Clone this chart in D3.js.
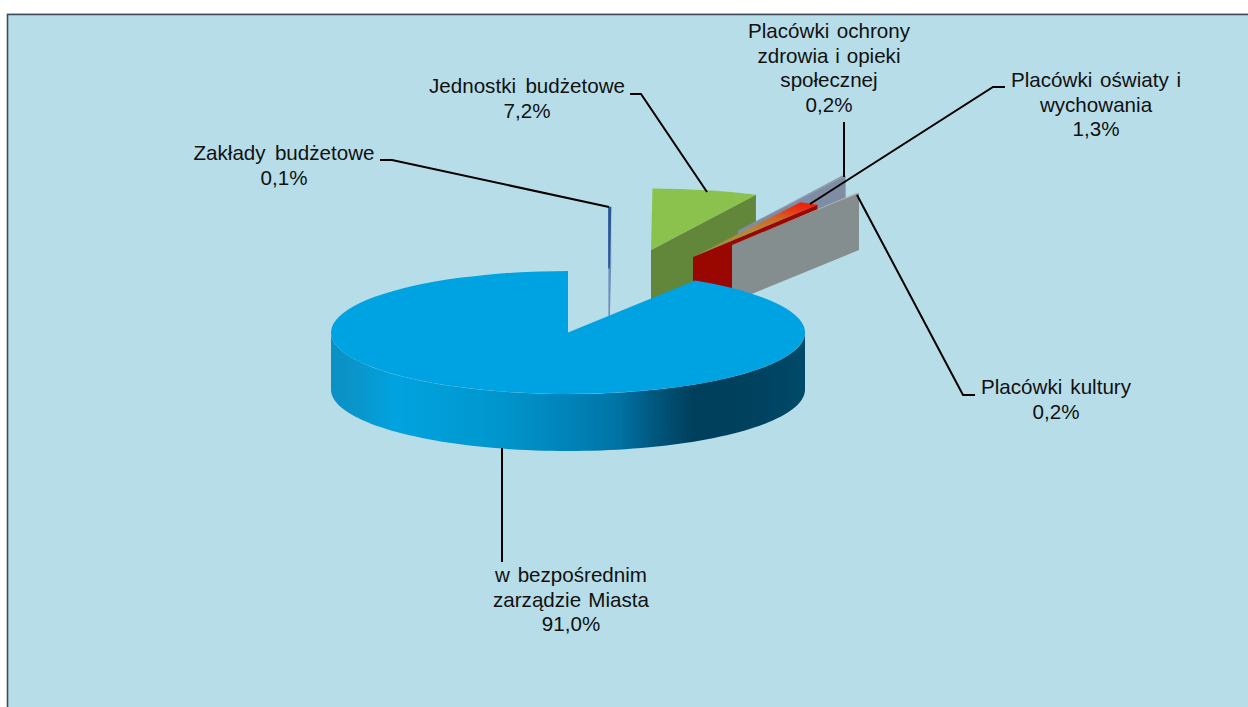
<!DOCTYPE html>
<html><head><meta charset="utf-8">
<script src="https://cdn.jsdelivr.net/npm/d3@7"></script>
<style>html,body{margin:0;padding:0;background:#fff}svg{display:block}</style>
</head><body><svg id="c" width="1248" height="707"></svg>
<script>
// Data
const categories = ["Zakłady budżetowe","Jednostki budżetowe","Placówki ochrony zdrowia i opieki społecznej","Placówki oświaty i wychowania","Placówki kultury","w bezpośrednim zarządzie Miasta"];
const values = [0.1,7.2,0.2,1.3,0.2,91.0];
const valueLabels = ["0,1%","7,2%","0,2%","1,3%","0,2%","91,0%"];
const labelLines = [["Zakłady budżetowe"],["Jednostki budżetowe"],["Placówki ochrony","zdrowia i opieki","społecznej"],["Placówki oświaty i","wychowania"],["Placówki kultury"],["w bezpośrednim","zarządzie Miasta"]];

// Layout & style
const W=1248,H=707, cx=568, cy=332.5, rx=237, ry=61.5, depth=57;
const explode=[[41,-64],[83,-82.5],[170,-102],[125,-75.5],[164,-87.5],[0,0]];
const topFill=["#2a5596","#8bc14d","#8794aa","url(#gRed)","#aeb6b6","#00a3e1"];
const wallFill=["#6f8fbb","#63873a","#7f8ca3","#9a0700","#848e8e","#00a3e1"];
const drawOrder=[0,1,2,3,4,5];
const labelPos=[{x:284,y:160,w:[181]},{x:527,y:93,w:[196]},{x:829,y:38,w:[162,143,97]},{x:1096,y:87,w:[170,112]},{x:1056,y:394,w:[150]},{x:571,y:582,w:[152,156]}];
const leaders=[[[380,160],[392,160],[609,207]],[[630,94],[641,94],[707,192]],[[844,122],[844,177]],[[1005,87],[993,87],[810,204]],[[975,395],[963,395],[857,195]],[[502,448],[502,562]]];

const svg=d3.select("#c");
const defs=svg.append("defs");
function grad(id,x1,x2,y1,y2,stops){
  const g=defs.append("linearGradient").attr("id",id).attr("gradientUnits","userSpaceOnUse")
    .attr("x1",x1).attr("x2",x2).attr("y1",y1).attr("y2",y2);
  stops.forEach(s=>g.append("stop").attr("offset",s[0]).attr("stop-color",s[1]));
}

svg.append("rect").attr("x",7).attr("y",13).attr("width",W-7).attr("height",H-13).attr("fill","#b7dde8");
svg.append("path").attr("d",d3.line()([[W,14.5],[7.5,14.5],[7.5,H]])).attr("fill","none").attr("stroke","#3d4c58").attr("stroke-width",1.6);

const slices=d3.pie().sort(null).value(d=>d).startAngle(0).endAngle(2*Math.PI)(values);
const arcGen=d3.arc().innerRadius(0).outerRadius(rx);
const pt=(a,ox,oy,dz=0)=>[cx+ox+rx*Math.sin(a), cy+oy-ry*Math.cos(a)+dz];
const line=d3.line();

grad("gMain",cx-rx,cx+rx,0,0,[[0,"#0a90c4"],[0.06,"#0a96cc"],[0.135,"#00a3e0"],[0.357,"#0096cd"],[0.504,"#0083b8"],[0.61,"#0072a4"],[0.68,"#00587f"],[0.764,"#003f5c"],[0.9,"#00425f"],[1,"#004a69"]]);
// Top of the red slice: gradient runs from apex to rim, in the arc's own local space
const redMid=(slices[3].startAngle+slices[3].endAngle)/2;
grad("gRed",0,rx*Math.sin(redMid),0,-rx*Math.cos(redMid),[[0,"#8f8f45"],[0.5,"#b5893a"],[0.72,"#d0662a"],[0.86,"#e63a16"],[1,"#f01e0a"]]);

drawOrder.forEach(i=>{
  const s=slices[i],[ox,oy]=explode[i];
  const g=svg.append("g");
  if(i===5){
    const front=d3.range(Math.PI/2,3*Math.PI/2+0.001,Math.PI/90);
    const poly=front.map(a=>pt(a,ox,oy)).concat(front.slice().reverse().map(a=>pt(a,ox,oy,depth)));
    g.append("path").attr("d",line(poly)+"Z").attr("fill","url(#gMain)");
  } else {
    const c0=[cx+ox,cy+oy], c1=pt(s.endAngle,ox,oy);
    let poly=[c0,c1,[c1[0],c1[1]+depth],[c0[0],c0[1]+depth]];
    if(i===0){const b=pt(s.startAngle,ox,oy);poly=[[c0[0]-0.6,c0[1]],[b[0]-0.6,b[1]],[c1[0]+0.7,c1[1]],[c1[0]+0.7,c1[1]+depth],[c0[0]+0.7,c0[1]+depth],[c0[0]-0.6,c0[1]+depth]];}
    g.append("path").attr("d",line(poly)+"Z").attr("fill",wallFill[i]);
  }
  g.append("path")
    .attr("d",arcGen({startAngle:s.startAngle,endAngle:s.endAngle}))
    .attr("transform",`translate(${cx+ox},${cy+oy}) scale(1,${ry/rx})`)
    .attr("fill",topFill[i])
    .attr("stroke",i===0?topFill[i]:"none").attr("stroke-width",i===0?1.6:0);
});

svg.append("g").selectAll("path").data(leaders).join("path")
  .attr("d",d=>line(d)).attr("fill","none").attr("stroke","#000").attr("stroke-width",2);

const tg=svg.append("g").attr("font-family","'Liberation Sans',Arial,sans-serif").attr("font-size",20.6).attr("fill","#111").attr("text-anchor","middle");
categories.forEach((c,i)=>{
  const p=labelPos[i];
  const lines=labelLines[i].concat([valueLabels[i]]);
  lines.forEach((t,j)=>{
    const el=tg.append("text").attr("x",p.x).attr("y",p.y+j*24.5).text(t);
    const target=p.w[j], n=(t.match(/ /g)||[]).length;
    if(target&&n){
      const w=el.node().getComputedTextLength();
      el.attr("word-spacing",Math.max(0,(target-w)/n));
    }
  });
});
</script></body></html>
